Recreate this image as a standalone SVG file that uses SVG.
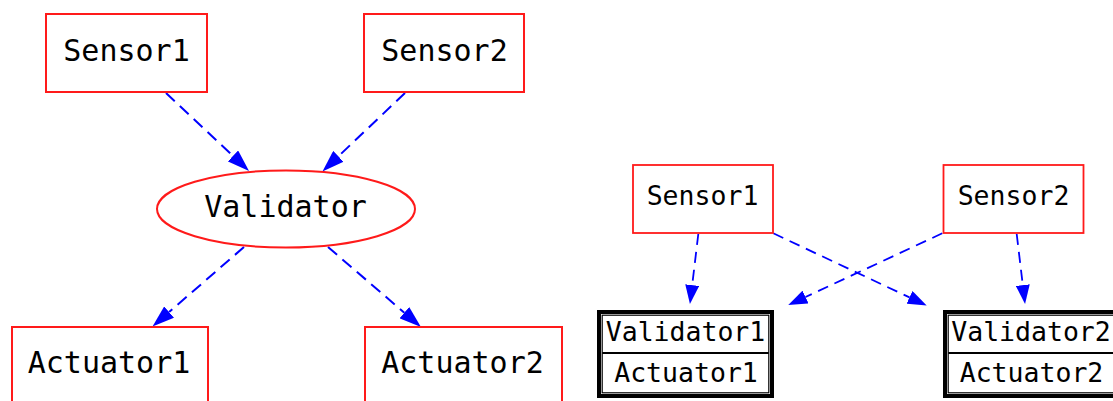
<svg xmlns="http://www.w3.org/2000/svg" width="1113" height="401" viewBox="0 0 1113 401">
  <style>
    .box { fill: #ffffff; stroke: #ff1a1a; stroke-width: 2; }
    .box-s { fill: #ffffff; stroke: #ff1a1a; stroke-width: 1.8; }
    .lbl { font-family: "DejaVu Sans Mono", "Liberation Mono", monospace; font-size: 30px; fill: #000000; text-anchor: middle; }
    .lbl-s { font-family: "DejaVu Sans Mono", "Liberation Mono", monospace; font-size: 26.5px; fill: #000000; text-anchor: middle; }
    .edge { fill: none; stroke: #0000ff; stroke-width: 2; stroke-dasharray: 12 7; }
    .edge-s { fill: none; stroke: #0000ff; stroke-width: 1.8; stroke-dasharray: 11 7; }
    .rec-outer { fill: #ffffff; stroke: #000000; stroke-width: 4; }
    .rec-inner { fill: none; stroke: #000000; stroke-width: 1.2; }
  </style>
  <defs>
    <marker id="head" markerUnits="userSpaceOnUse" markerWidth="22" markerHeight="15" refX="0" refY="7.5" orient="auto">
      <path d="M0,0 L22,7.5 L0,15 z" fill="#0000ff"/>
    </marker>
    <marker id="head-s" markerUnits="userSpaceOnUse" markerWidth="19" markerHeight="14" refX="0" refY="7" orient="auto">
      <path d="M0,0 L19,7 L0,14 z" fill="#0000ff"/>
    </marker>
  </defs>

  <!-- first graph: shared validator -->
  <g id="edges-a">
    <path class="edge" d="M166,93 L233,155.9" marker-end="url(#head)"/>
    <path class="edge" d="M405,93 L338.4,156.3" marker-end="url(#head)"/>
    <path class="edge" d="M244,247 L169.1,312.1" marker-end="url(#head)"/>
    <path class="edge" d="M328,247 L404.3,312.7" marker-end="url(#head)"/>
  </g>
  <g id="a-sensor1">
    <rect class="box" x="46" y="14" width="161" height="78"/>
    <text class="lbl" x="126.5" y="61">Sensor1</text>
  </g>
  <g id="a-sensor2">
    <rect class="box" x="364" y="14" width="160" height="78"/>
    <text class="lbl" x="444.5" y="61">Sensor2</text>
  </g>
  <g id="a-validator">
    <ellipse class="box" cx="286" cy="209" rx="129" ry="38.5"/>
    <text class="lbl" x="285.5" y="216.5">Validator</text>
  </g>
  <g id="a-actuator1">
    <rect class="box" x="12" y="327" width="196" height="80"/>
    <text class="lbl" x="109" y="372.5">Actuator1</text>
  </g>
  <g id="a-actuator2">
    <rect class="box" x="365" y="327" width="197" height="80"/>
    <text class="lbl" x="462.5" y="372.5">Actuator2</text>
  </g>

  <!-- second graph: paired validator/actuator records -->
  <g id="edges-b">
    <path class="edge-s" d="M698.3,234 L692.2,285.1" marker-end="url(#head-s)"/>
    <path class="edge-s" d="M773.3,233.3 L909.5,297.4" marker-end="url(#head-s)"/>
    <path class="edge-s" d="M942.3,233.3 L805.5,297" marker-end="url(#head-s)"/>
    <path class="edge-s" d="M1016.7,234 L1022.8,285.1" marker-end="url(#head-s)"/>
  </g>
  <g id="b-sensor1">
    <rect class="box-s" x="633" y="165" width="140" height="68"/>
    <text class="lbl-s" x="702.5" y="205">Sensor1</text>
  </g>
  <g id="b-sensor2">
    <rect class="box-s" x="943.5" y="165" width="140" height="68"/>
    <text class="lbl-s" x="1013.5" y="205">Sensor2</text>
  </g>
  <g id="b-record1">
    <rect class="rec-outer" x="599" y="312" width="173" height="84"/>
    <rect class="rec-inner" x="602.2" y="315.2" width="166.6" height="77.6"/>
    <line x1="602.2" y1="353" x2="768.8" y2="353" stroke="#000000" stroke-width="2"/>
    <text class="lbl-s" x="685.5" y="341">Validator1</text>
    <text class="lbl-s" x="686" y="381.5">Actuator1</text>
  </g>
  <g id="b-record2">
    <rect class="rec-outer" x="945" y="312" width="173" height="84"/>
    <rect class="rec-inner" x="948.2" y="315.2" width="166.6" height="77.6"/>
    <line x1="948.2" y1="353" x2="1114.8" y2="353" stroke="#000000" stroke-width="2"/>
    <text class="lbl-s" x="1031" y="341">Validator2</text>
    <text class="lbl-s" x="1031.5" y="381.5">Actuator2</text>
  </g>
</svg>
